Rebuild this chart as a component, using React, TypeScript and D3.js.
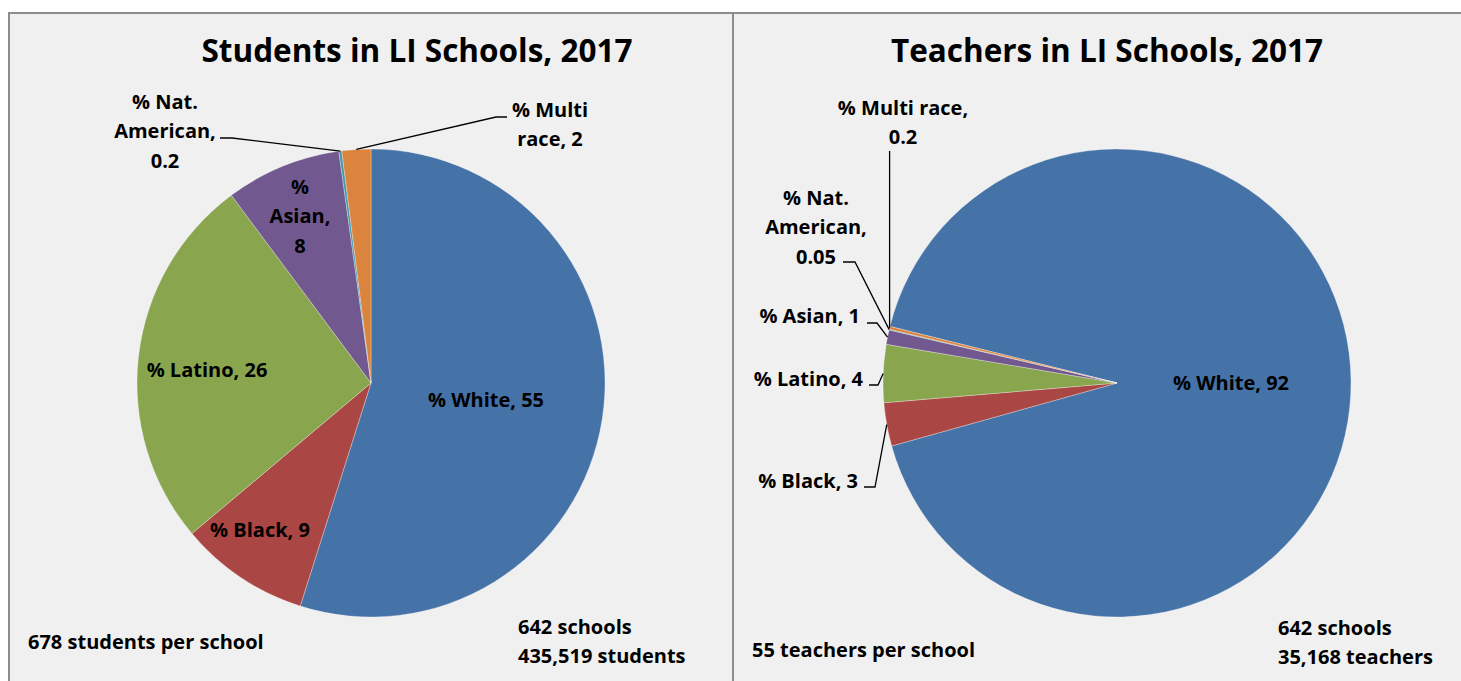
import React from "react";
import * as d3 from "d3";

const categories = ["% White", "% Black", "% Latino", "% Asian", "% Nat. American", "% Multi race"];
const studentValues = [55, 9, 26, 8, 0.2, 2];
const teacherValues = [92, 3, 4, 1, 0.05, 0.2];
const colors = ["#4572A7", "#AA4643", "#89A54E", "#71588F", "#4198AF", "#DB843D"];

const titles = ["Students in LI Schools, 2017", "Teachers in LI Schools, 2017"];
const perSchoolNotes = ["678 students per school", "55 teachers per school"];
const totalNotes = [["642 schools", "435,519 students"], ["642 schools", "35,168 teachers"]];

type LabelLayout = {
  lines: string[];
  x: number;
  y: number;
  anchor: string;
  leader?: [number, number][]; // label-side points; pie-side point is computed
};

const FONT = "'Open Sans', Lato, sans-serif";
const LABEL_SIZE = 20;
const TITLE_SIZE = 31.5;

const leftLabels: LabelLayout[] = [
  { lines: ["% White, 55"], x: 486, y: 407, anchor: "middle" },
  { lines: ["% Black, 9"], x: 260, y: 537, anchor: "middle" },
  { lines: ["% Latino, 26"], x: 207, y: 377, anchor: "middle" },
  { lines: ["%", "Asian,", "8"], x: 300, y: 194, anchor: "middle" },
  { lines: ["% Nat.", "American,", "0.2"], x: 165, y: 109, anchor: "middle", leader: [[220, 138], [232, 138]] },
  { lines: ["% Multi", "race, 2"], x: 550, y: 117, anchor: "middle", leader: [[507, 117], [496, 117]] },
];

const rightLabels: LabelLayout[] = [
  { lines: ["% White, 92"], x: 1231, y: 390, anchor: "middle" },
  { lines: ["% Black, 3"], x: 858, y: 488, anchor: "end", leader: [[864, 487], [875, 487]] },
  { lines: ["% Latino, 4"], x: 863, y: 386, anchor: "end", leader: [[869, 385], [878, 385]] },
  { lines: ["% Asian, 1"], x: 860, y: 323, anchor: "end", leader: [[867, 323], [877, 323]] },
  { lines: ["% Nat.", "American,", "0.05"], x: 816, y: 205, anchor: "middle", leader: [[843, 262], [855, 262]] },
  { lines: ["% Multi race,", "0.2"], x: 903, y: 115, anchor: "middle", leader: [[889, 151]] },
];

type PieSpec = {
  values: number[];
  cx: number;
  cy: number;
  r: number;
  startDeg: number;
  labels: LabelLayout[];
};

function PieChart({ spec }: { spec: PieSpec }) {
  const start = (spec.startDeg * Math.PI) / 180;
  const pie = d3
    .pie<number>()
    .sort(null)
    .value((d) => d)
    .startAngle(start)
    .endAngle(start + 2 * Math.PI);
  const arcs = pie(spec.values);
  const arc = d3.arc<d3.PieArcDatum<number>>().innerRadius(0).outerRadius(spec.r);
  const line = d3.line();

  return (
    <g>
      <g transform={`translate(${spec.cx},${spec.cy})`}>
        {arcs.map((a, i) => (
          <path key={i} d={arc(a) || ""} fill={colors[i]} stroke="#ffffff" strokeOpacity={0.5} strokeWidth={0.6} />
        ))}
      </g>
      {spec.labels.map((lab, i) => {
        const a = arcs[i];
        const mid = (a.startAngle + a.endAngle) / 2;
        const px = spec.cx + spec.r * Math.sin(mid);
        const py = spec.cy - spec.r * Math.cos(mid);
        let pts: [number, number][] | null = null;
        if (lab.leader) {
          if (lab.leader.length === 1) {
            pts = [[px, lab.leader[0][1]], [px, py]];
          } else {
            pts = [...lab.leader, [px, py]];
          }
        }
        return (
          <g key={i}>
            {pts && <path d={line(pts) || ""} fill="none" stroke="#000" strokeWidth={1.3} />}
            <text
              x={lab.x}
              y={lab.y}
              textAnchor={lab.anchor}
              fontFamily={FONT}
              fontWeight="bold"
              fontSize={LABEL_SIZE}
              fill="#000"
            >
              {lab.lines.map((ln, j) => (
                <tspan key={j} x={lab.x} dy={j === 0 ? 0 : 29.3}>
                  {ln}
                </tspan>
              ))}
            </text>
          </g>
        );
      })}
    </g>
  );
}

export default function App() {
  const W = 1461;
  const H = 681;
  const leftSpec: PieSpec = { values: studentValues, cx: 371, cy: 383, r: 234, startDeg: 0, labels: leftLabels };
  const rightSpec: PieSpec = { values: teacherValues, cx: 1117, cy: 383, r: 234, startDeg: 284, labels: rightLabels };
  const txt = { fontFamily: FONT, fontWeight: "bold" as const, fontSize: LABEL_SIZE, fill: "#000" };
  return (
    <svg width={W} height={H} style={{ position: "absolute", left: 0, top: 0, background: "#fff" }}>
      <rect x={9} y={13} width={724} height={700} fill="#f0f0f0" stroke="#8c8c8c" strokeWidth={2} />
      <rect x={733} y={13} width={740} height={700} fill="#f0f0f0" stroke="#8c8c8c" strokeWidth={2} />
      <text x={417} y={62} textAnchor="middle" fontFamily={FONT} fontWeight="bold" fontSize={TITLE_SIZE}>
        {titles[0]}
      </text>
      <text x={1107} y={62} textAnchor="middle" fontFamily={FONT} fontWeight="bold" fontSize={TITLE_SIZE}>
        {titles[1]}
      </text>
      <PieChart spec={leftSpec} />
      <PieChart spec={rightSpec} />
      <text x={28} y={649} {...txt}>{perSchoolNotes[0]}</text>
      <text x={518} y={634} {...txt}>{totalNotes[0][0]}</text>
      <text x={518} y={663} {...txt}>{totalNotes[0][1]}</text>
      <text x={752} y={657} {...txt}>{perSchoolNotes[1]}</text>
      <text x={1278} y={635} {...txt}>{totalNotes[1][0]}</text>
      <text x={1278} y={664} {...txt}>{totalNotes[1][1]}</text>
    </svg>
  );
}
